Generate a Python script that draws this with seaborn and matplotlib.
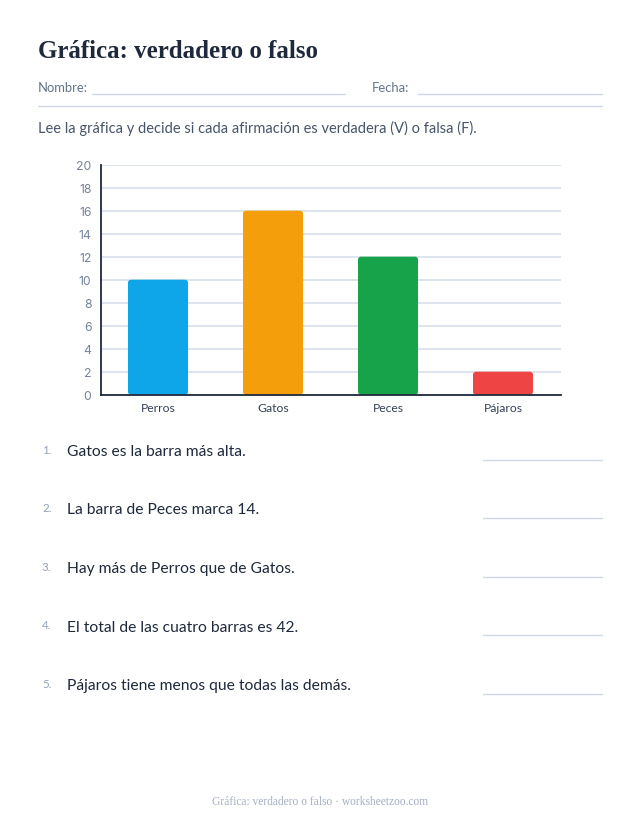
import matplotlib
matplotlib.use("Agg")
import matplotlib.pyplot as plt
from matplotlib.lines import Line2D
from matplotlib.patches import FancyBboxPatch
import pandas as pd
import seaborn as sns

categories = ["Perros", "Gatos", "Peces", "Pájaros"]
values = [10, 16, 12, 2]
bar_colors = ["#0ea5e9", "#f59e0b", "#16a34a", "#ef4444"]
y_ticks = list(range(0, 21, 2))
title = "Gráfica: verdadero o falso"
instructions = "Lee la gráfica y decide si cada afirmación es verdadera (V) o falsa (F)."
statements = [
    "Gatos es la barra más alta.",
    "La barra de Peces marca 14.",
    "Hay más de Perros que de Gatos.",
    "El total de las cuatro barras es 42.",
    "Pájaros tiene menos que todas las demás.",
]
footer = "Gráfica: verdadero o falso · worksheetzoo.com"

W, H = 640, 829
sns.set_theme(style="white")
plt.rcParams["font.family"] = ["Lato", "DejaVu Sans"]
fig = plt.figure(figsize=(W / 100, H / 100), dpi=100, facecolor="white")

def fx(x):
    return x / W

def fy(y):
    return 1 - y / H

def txt(x, y, s, **kw):
    kw.setdefault("va", "center")
    fig.text(fx(x), fy(y), s, **kw)

def rule(x0, x1, y, color="#cfd8e6", lw=1.0):
    fig.add_artist(Line2D([fx(x0), fx(x1)], [fy(y), fy(y)], color=color, lw=lw))

ink = "#1e293b"
muted = "#64748b"
txt(38, 52, title, fontsize=18.0, fontweight="bold", color=ink, family="Liberation Serif")
txt(38, 88, "Nombre:", fontsize=9.4, color=muted)
rule(92, 345, 94.5)
txt(372, 88, "Fecha:", fontsize=9.4, color=muted)
rule(418, 602, 94.5)
rule(38, 602, 107)
txt(38, 128, instructions, fontsize=10.55, color="#475569")

ax = fig.add_axes([fx(100.5), fy(395.7), 460 / W, 230 / H])
df = pd.DataFrame({"categoria": categories, "valor": values})
sns.barplot(data=df, x="categoria", y="valor", hue="categoria", palette=bar_colors,
            order=categories, width=0.522, legend=False, ax=ax, saturation=1)
ax.set_xlim(-0.5, 3.5)
ax.set_ylim(0, 20)
ax.set_yticks(y_ticks)
ax.set_xlabel("")
ax.set_ylabel("")
ax.set_axisbelow(True)
ax.yaxis.grid(True, color="#d5dce8", lw=1.1)
ax.xaxis.grid(False)
for side in ("top", "right"):
    ax.spines[side].set_visible(False)
for side in ("left", "bottom"):
    ax.spines[side].set_color(ink)
    ax.spines[side].set_linewidth(1.3)
    ax.spines[side].set_zorder(5)
ax.tick_params(axis="both", length=0)
ax.tick_params(axis="y", labelsize=8.8, labelcolor="#74829a", pad=6.5)
ax.tick_params(axis="x", labelsize=8.7, labelcolor="#334155", pad=5)
for label in ax.get_yticklabels():
    label.set_family("Inter")

# Round the corners of the bars seaborn drew, keeping their geometry.
for bar in list(ax.patches):
    rounded = FancyBboxPatch((bar.get_x(), bar.get_y()), bar.get_width(), bar.get_height(),
                             boxstyle="round,pad=0,rounding_size=0.026", mutation_aspect=10,
                             facecolor=bar.get_facecolor(), edgecolor="none", zorder=3)
    bar.remove()
    ax.add_patch(rounded)

for i, (s, y) in enumerate(zip(statements, [452, 510.5, 569, 627.5, 686]), start=1):
    txt(42, y - 1.5, f"{i}.", fontsize=8.4, color="#94a3b8")
    txt(67, y, s, fontsize=11.25, color=ink)
    rule(483, 602, y + 8.5)

txt(320, 802, footer, fontsize=8.3, color="#a3afc2", ha="center", family="Liberation Serif")

fig.savefig("out.png", dpi=100, facecolor="white")
